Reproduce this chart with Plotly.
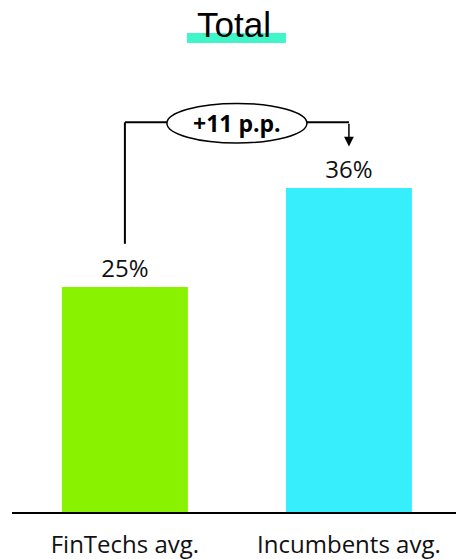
import plotly.graph_objects as go

categories = ["FinTechs avg.", "Incumbents avg."]
values = [25, 36]
value_labels = ["25%", "36%"]
bar_colors = ["#88F200", "#36EEFC"]
diff_label = "+11 p.p."
title_text = "Total"

fig = go.Figure()
fig.add_trace(go.Bar(
    x=[0, 1], y=values, width=0.5625,
    marker=dict(color=bar_colors, line=dict(width=0)),
    text=value_labels, textposition="outside",
    textfont=dict(family="Open Sans", size=24, color="#111111"),
    cliponaxis=False, hoverinfo="skip",
))

bracket_y = 43.3
line_style = dict(color="black", width=2)
# left vertical
fig.add_shape(type="line", xref="x", yref="y", x0=0, x1=0, y0=29.8, y1=bracket_y, line=line_style)
# left horizontal
fig.add_shape(type="line", xref="x", yref="y", x0=0, x1=0.1875, y0=bracket_y, y1=bracket_y, line=line_style)
# right horizontal
fig.add_shape(type="line", xref="x", yref="y", x0=0.8125, x1=1, y0=bracket_y, y1=bracket_y, line=line_style)
# ellipse
fig.add_shape(type="circle", xref="x", yref="y", x0=0.1875, x1=0.8125, y0=41.0, y1=45.4,
              line=dict(color="black", width=1.5), fillcolor="white")
fig.add_annotation(x=0.5, y=43.2, xref="x", yref="y", text="<b>" + diff_label + "</b>",
                   showarrow=False, font=dict(family="Open Sans", size=23, color="black"))
# arrow
fig.add_annotation(x=1, y=40.6, ax=1, ay=bracket_y, xref="x", yref="y", axref="x", ayref="y",
                   text="", showarrow=True, arrowhead=2, arrowsize=1.3, arrowwidth=1.5,
                   arrowcolor="black", standoff=0)

# title highlight and text
fig.add_shape(type="rect", xref="paper", yref="paper", x0=0.394, x1=0.617, y0=1.0376, y1=1.0597,
              fillcolor="#40F5C8", line=dict(width=0), layer="below")
fig.add_annotation(x=0.5, y=1.079, xref="paper", yref="paper", text=title_text, showarrow=False,
                   yanchor="middle", xanchor="center",
                   font=dict(family="Liberation Sans, Arial", size=35, color="black"))

fig.update_layout(
    width=456, height=559,
    margin=dict(l=12, r=0, t=60, b=47),
    plot_bgcolor="white", paper_bgcolor="white",
    showlegend=False,
    xaxis=dict(range=[-0.504, 1.478], tickmode="array", tickvals=[0, 1], ticktext=categories,
               showline=True, linecolor="black", linewidth=1.5, showgrid=False, zeroline=False,
               ticks="", ticklabelstandoff=10,
               tickfont=dict(family="Open Sans", size=24, color="#111111")),
    yaxis=dict(range=[0, 452 / 9], visible=False, showgrid=False, zeroline=False),
)

fig.write_html("out.html")
